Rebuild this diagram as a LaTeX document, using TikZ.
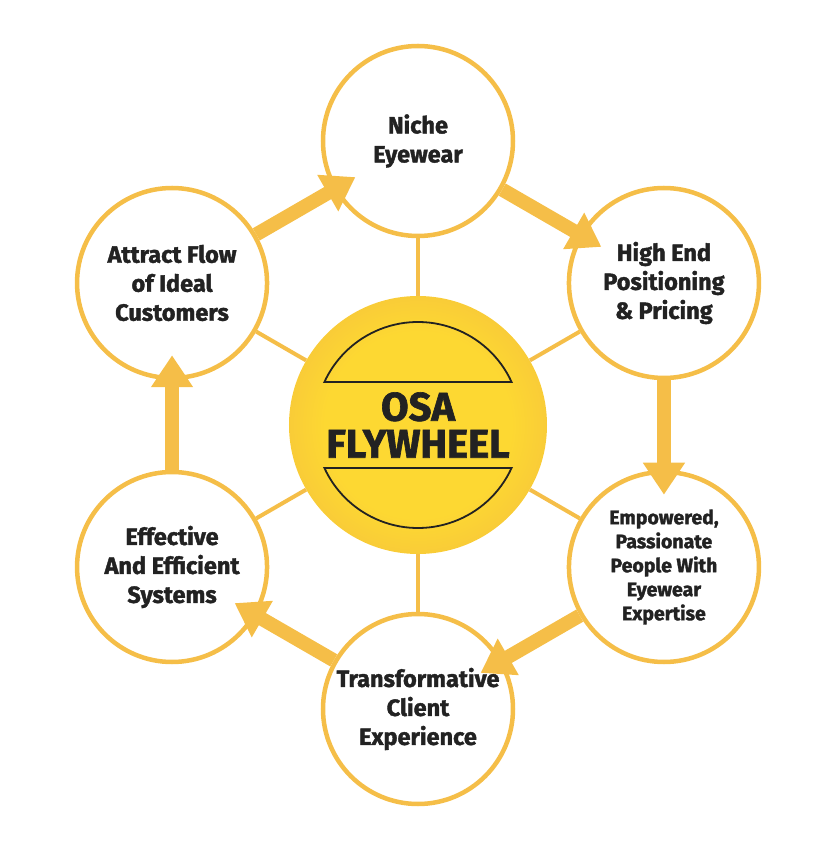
\documentclass[tikz,border=0pt]{standalone}
\usepackage{fontspec}
\setmainfont{Fira Sans}[BoldFeatures={FakeBold=1.6}]
\usetikzlibrary{arrows.meta}
\definecolor{wheelgold}{RGB}{245,190,72}
\definecolor{hubyellow}{RGB}{253,216,50}
\definecolor{hubedge}{RGB}{243,186,64}
\definecolor{hubtext}{RGB}{34,34,34}
\pgfdeclareradialshading{hubshade}{\pgfpoint{0bp}{0bp}}{color(0bp)=(hubyellow); color(18bp)=(hubyellow); color(35.4bp)=(hubedge); color(50bp)=(hubedge)}

\begin{document}
\begin{tikzpicture}[x=1pt, y=1pt, every node/.style={align=center, text=hubtext, font=\bfseries\fontsize{23.5}{29}\selectfont},
    stage/.style={circle, draw=wheelgold, line width=4.5pt, fill=white, minimum size=190pt, inner sep=0pt},
    spoke/.style={draw=wheelgold, line width=4pt},
    flow/.style={draw=wheelgold, line width=14pt, -{Triangle[length=32pt,width=40pt]}, shorten >=-25pt},
    hubline/.style={draw=hubtext, line width=1.8pt}]

    \useasboundingbox (-418,-423) rectangle (416,425);

    % Hub
    \node[circle, minimum size=258pt, inner sep=0pt, shade, shading=hubshade, font=\bfseries\fontsize{40}{37}\selectfont] (hub) at (0,0) {OSA\\FLYWHEEL};
    \draw[hubline] (24.68:103) arc[start angle=24.68, end angle=155.32, radius=103] -- cycle;
    \draw[hubline] (-24.68:103) arc[start angle=-24.68, end angle=-155.32, radius=103] -- cycle;

    % Stages round the wheel
    \node[stage] (niche) at (90:284) {Niche\\Eyewear};
    \node[stage] (highend) at (30:284) {High End\\Positioning\\\& Pricing};
    \node[stage, font=\bfseries\fontsize{19.5}{24}\selectfont] (people) at (-30:284) {Empowered,\\Passionate\\People With\\Eyewear\\Expertise};
    \node[stage] (client) at (-90:284) {Transformative\\Client\\Experience};
    \node[stage] (systems) at (210:284) {Effective\\And Efficient\\Systems};
    \node[stage] (attract) at (150:284) {Attract Flow\\of Ideal\\Customers};

    % Spokes
    \foreach \s in {niche, highend, people, client, systems, attract}
        \draw[spoke] (hub) -- (\s);

    % Flow arrows
    \draw[flow] (attract) -- (niche);
    \draw[flow] (niche) -- (highend);
    \draw[flow] (highend) -- (people);
    \draw[flow] (people) -- (client);
    \draw[flow] (client) -- (systems);
    \draw[flow] (systems) -- (attract);

\end{tikzpicture}
\end{document}
